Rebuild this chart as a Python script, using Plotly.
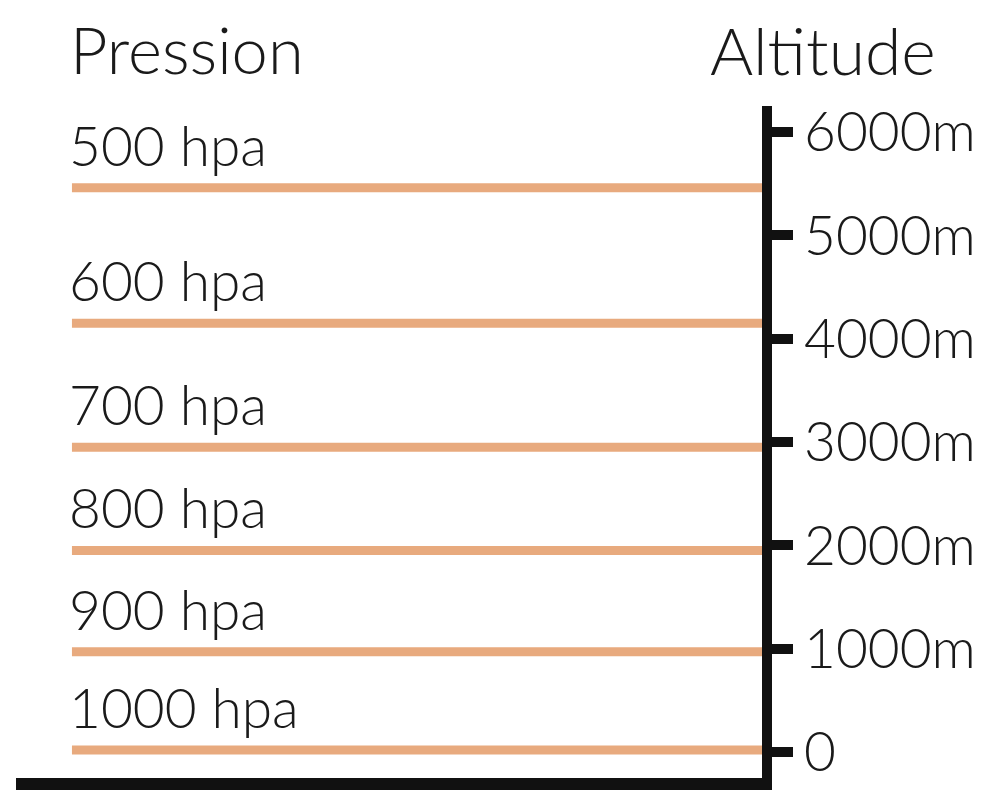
import plotly.graph_objects as go

# pressure levels and their approximate altitude (m)
pressure_labels = ["500 hpa", "600 hpa", "700 hpa", "800 hpa", "900 hpa", "1000 hpa"]
level_altitudes = [5460, 4150, 2950, 1950, 970, 20]

# altitude axis
altitude_ticks = [0, 1000, 2000, 3000, 4000, 5000, 6000]
altitude_tick_labels = ["0", "1000m", "2000m", "3000m", "4000m", "5000m", "6000m"]

FONT = "Lato"
TEXT_COLOR = "#1a1a1a"
LINE_COLOR = "#E8AA7E"
X_START = 0.075

# page body keeps its 8px margin, so the figure is sized to fit the window
W, H = 979, 782
L, R, T, B = 8, 225, 98, 12
PW, PH = W - L - R, H - T - B

fig = go.Figure()

for label, alt in zip(pressure_labels, level_altitudes):
    fig.add_trace(go.Scatter(
        x=[X_START, 1], y=[alt, alt],
        mode="lines",
        line=dict(color=LINE_COLOR, width=9),
        hoverinfo="skip",
        showlegend=False,
    ))
    fig.add_annotation(
        x=X_START, y=alt, xref="x", yref="y",
        text=label, showarrow=False,
        xanchor="left", yanchor="bottom", xshift=-5, yshift=8,
        font=dict(family=FONT, size=55, color=TEXT_COLOR, weight=300),
    )

fig.add_annotation(
    text="Pression", showarrow=False, xref="paper", yref="paper",
    x=52 / PW, y=1 + 98 / PH, xanchor="left", yanchor="top",
    font=dict(family=FONT, size=65, color=TEXT_COLOR, weight=300),
)
fig.add_annotation(
    text="Altitude", showarrow=False, xref="paper", yref="paper",
    x=692 / PW, y=1 + 98 / PH, xanchor="left", yanchor="top",
    font=dict(family=FONT, size=66, color=TEXT_COLOR, weight=300),
)

fig.update_layout(
    width=W, height=H,
    margin=dict(l=L, r=R, t=T, b=B),
    paper_bgcolor="white",
    plot_bgcolor="white",
    xaxis=dict(
        range=[0, 1], showgrid=False, zeroline=False, showticklabels=False,
        showline=True, linecolor="#111111", linewidth=12, automargin=False,
    ),
    yaxis=dict(
        range=[-252, 6252], side="right", automargin=False,
        tickvals=altitude_ticks, ticktext=altitude_tick_labels,
        showgrid=False, zeroline=False,
        showline=True, linecolor="#111111", linewidth=10,
        ticks="outside", ticklen=21, tickwidth=10, tickcolor="#111111",
        ticklabelstandoff=0,
        tickfont=dict(family=FONT, size=55, color=TEXT_COLOR, weight=300),
    ),
)

fig.write_html("out.html")
